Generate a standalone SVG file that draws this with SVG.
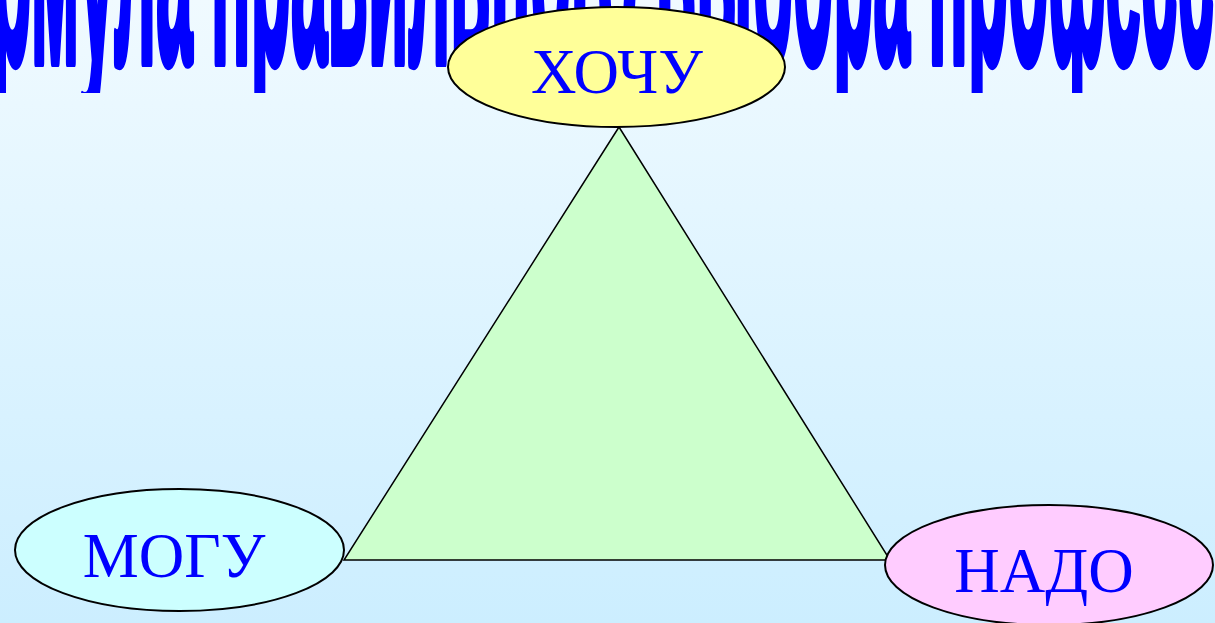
<svg xmlns="http://www.w3.org/2000/svg" width="1215" height="623" viewBox="0 0 1215 623">
<defs>
<linearGradient id="bg" x1="0" y1="0" x2="0" y2="1">
<stop offset="0" stop-color="#F0FAFF"/>
<stop offset="1" stop-color="#CCEEFF"/>
</linearGradient>
<clipPath id="titleClip"><rect x="0" y="0" width="1215" height="93"/></clipPath>
</defs>
<style>
.node{stroke:#000;stroke-width:2}
.lbl{font-family:"Liberation Serif","Times New Roman",serif;font-size:63px;fill:#0000FF;text-anchor:middle}
.title{font-family:"Liberation Sans",Arial,sans-serif;font-weight:bold;font-size:148px;fill:#0000FF;stroke:#0000FF;stroke-width:4.5;stroke-linejoin:round}
</style>
<rect width="1215" height="623" fill="url(#bg)"/>
<g id="title" clip-path="url(#titleClip)">
<text class="title" x="-105" y="62" textLength="1400" lengthAdjust="spacingAndGlyphs" transform="translate(0,62) scale(1,2.2) translate(0,-62)">Формула правильного выбора профессии</text>
</g>
<g id="connectors">
<polygon points="619,127 344,560 890,560" fill="#CCFFCC" stroke="#000" stroke-width="1.5"/>
</g>
<g id="node-hochu">
<ellipse class="node" cx="616.5" cy="67" rx="168.5" ry="60" fill="#FFFF99"/>
<text class="lbl" x="617" y="93">ХОЧУ</text>
</g>
<g id="node-mogu">
<ellipse class="node" cx="179.5" cy="550" rx="164.5" ry="61" fill="#CCFFFF"/>
<text class="lbl" x="174" y="577">МОГУ</text>
</g>
<g id="node-nado">
<ellipse class="node" cx="1049" cy="565" rx="164" ry="60" fill="#FFCCFF"/>
<text class="lbl" x="1044" y="592">НАДО</text>
</g>
</svg>
